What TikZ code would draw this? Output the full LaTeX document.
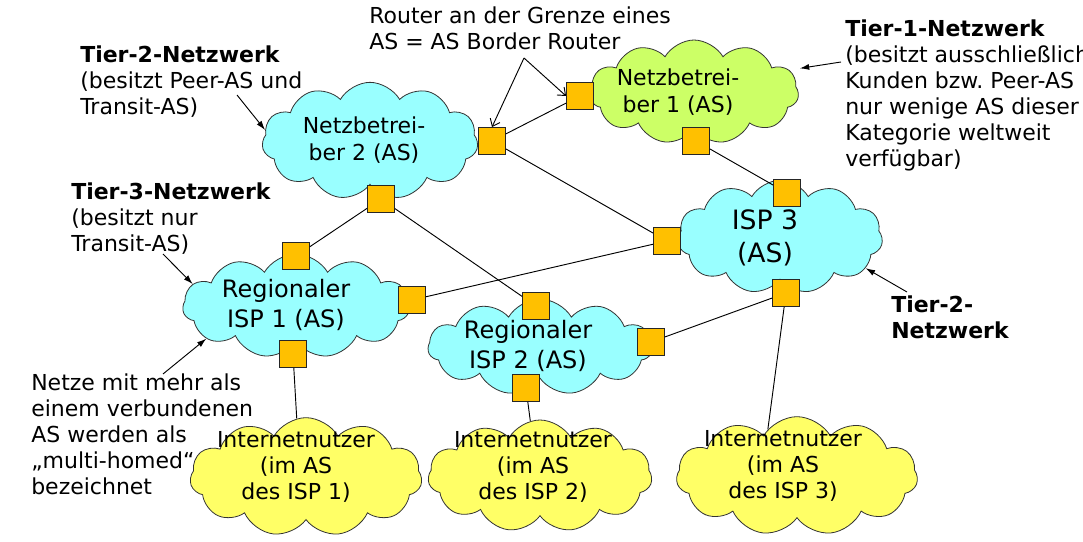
\documentclass[tikz,border=0pt]{standalone}
\usepackage{fontspec}
\setmainfont{DejaVu Sans}
\usetikzlibrary{shapes.symbols,arrows.meta}
\definecolor{ascyan}{RGB}{153,255,255}
\definecolor{asgreen}{RGB}{204,255,102}
\definecolor{asyellow}{RGB}{255,255,102}
\definecolor{routerorange}{RGB}{255,192,0}

\begin{document}
\begin{tikzpicture}[x=0.75pt,y=0.75pt,yscale=-1,xscale=1,
	as/.style={cloud, cloud puffs=11, cloud puff arc=120, cloud ignores aspect, draw=black!80, line width=0.6pt, inner sep=0pt},
	astext/.style={align=center, inner sep=0pt},
	router/.style={draw=black!85, fill=routerorange, line width=0.9pt, minimum size=20pt, inner sep=0pt},
	link/.style={line width=0.7pt},
	hint/.style={-{Latex[length=7pt,width=4.5pt]}, line width=0.7pt},
	barb/.style={-{Straight Barb[length=5pt,width=8pt]}, line width=0.7pt},
	note/.style={align=left, inner sep=0pt, anchor=north west, font=\fontsize{16.5}{19.5}\selectfont}]
		\useasboundingbox (0,0) rectangle (1083,542);
		\fill[white] (0,0) rectangle (1083,542);
		
		\node[as, fill=ascyan, minimum width=162pt, minimum height=88pt] (nb2) at (370,141) {};
		\node[as, fill=asgreen, minimum width=157pt, minimum height=78pt] (nb1) at (694,92) {};
		\node[as, fill=ascyan, minimum width=154pt, minimum height=85pt] (isp3) at (780,237) {};
		\node[as, fill=ascyan, minimum width=170pt, minimum height=78pt] (risp1) at (296,306) {};
		\node[as, fill=ascyan, minimum width=168pt, minimum height=72pt] (risp2) at (540,347) {};
		\node[as, fill=asyellow, minimum width=174pt, minimum height=89pt] (inet1) at (306,477) {};
		\node[as, fill=asyellow, minimum width=168pt, minimum height=84pt] (inet2) at (540,476) {};
		\node[as, fill=asyellow, minimum width=181pt, minimum height=89pt] (inet3) at (797,476) {};
		
		\node[astext, font=\fontsize{16.5}{20.5}\selectfont] (nb2text) at (364,140) {Netzbetrei-\\ber 2 (AS)};
		\node[astext, font=\fontsize{16.5}{20.5}\selectfont] (nb1text) at (678,92) {Netzbetrei-\\ber 1 (AS)};
		\node[astext, font=\fontsize{20}{24.5}\selectfont] (isp3text) at (765,238) {ISP 3\\(AS)};
		\node[astext, font=\fontsize{18}{22.5}\selectfont] (risp1text) at (286,305) {Regionaler\\ISP 1 (AS)};
		\node[astext, font=\fontsize{18}{22.5}\selectfont] (risp2text) at (528,346) {Regionaler\\ISP 2 (AS)};
		\node[astext, font=\fontsize{16.5}{19.5}\selectfont] (inet1text) at (296,467) {Internetnutzer\\(im AS\\des ISP 1)};
		\node[astext, font=\fontsize{16.5}{19.5}\selectfont] (inet2text) at (533,467) {Internetnutzer\\(im AS\\des ISP 2)};
		\node[astext, font=\fontsize{16.5}{19.5}\selectfont] (inet3text) at (783,466) {Internetnutzer\\(im AS\\des ISP 3)};
		
		
		\node[router] (r1) at (492,141) {};
		\node[router] (r2) at (381,199) {};
		\node[router] (r3) at (580,96) {};
		\node[router] (r4) at (696,141) {};
		\node[router] (r5) at (787,193) {};
		\node[router] (r6) at (667,241) {};
		\node[router] (r7) at (786,293) {};
		\node[router] (r8) at (296,256) {};
		\node[router] (r9) at (412,300) {};
		\node[router] (r10) at (293,354) {};
		\node[router] (r11) at (536,306) {};
		\node[router] (r12) at (651,342) {};
		\node[router] (r13) at (526,388) {};
		
		
		\draw[link] (r1) -- (r3);
		\draw[link] (r1) -- (r6);
		\draw[link] (r2) -- (r8);
		\draw[link] (r2) -- (r11);
		\draw[link] (r4) -- (r5);
		\draw[link] (r9) -- (r6);
		\draw[link] (r12) -- (r7);
		\draw[link] (r10) -- (inet1.99);
		\draw[link] (r13) -- (inet2.100);
		\draw[link] (r7) -- (inet3.122);
		
		
		\node[note] (border) at (369,7) {Router an der Grenze eines\\AS = AS Border Router};
		\node[note] (tier2a) at (80,46) {\textbf{Tier-2-Netzwerk}\\(besitzt Peer-AS und\\Transit-AS)};
		\node[note] (tier1) at (845,20) {\textbf{Tier-1-Netzwerk}\\(besitzt ausschließlich\\Kunden bzw.\ Peer-AS\\nur wenige AS dieser\\Kategorie weltweit\\verfügbar)};
		\node[note] (tier3) at (71,183) {\textbf{Tier-3-Netzwerk}\\(besitzt nur\\Transit-AS)};
		\node[note] (multi) at (31,374) {Netze mit mehr als\\einem verbundenen\\AS werden als\\„multi-homed“\\bezeichnet};
		\node[note] (tier2b) at (891,296) {\textbf{Tier-2-}\\\textbf{Netzwerk}};
		
		
		\coordinate (bordertail) at (524,58);
		\coordinate (tier2atail) at (237,95);
		\coordinate (tier1tail) at (841,62);
		\coordinate (tier3tail) at (163,254);
		\coordinate (multitail) at (163,374);
		\coordinate (tier2btail) at (907,292);
		\draw[barb] (bordertail) -- (r1.north);
		\draw[barb] (bordertail) -- (r3.west);
		\draw[hint] (tier2atail) -- (nb2.174);
		\draw[hint, shorten >=8pt] (tier1tail) -- (nb1.13);
		\draw[hint] (tier3tail) -- (risp1.168);
		\draw[hint] (multitail) -- (risp1.200);
		\draw[hint] (tier2btail) -- (isp3.340);
\end{tikzpicture}
\end{document}
